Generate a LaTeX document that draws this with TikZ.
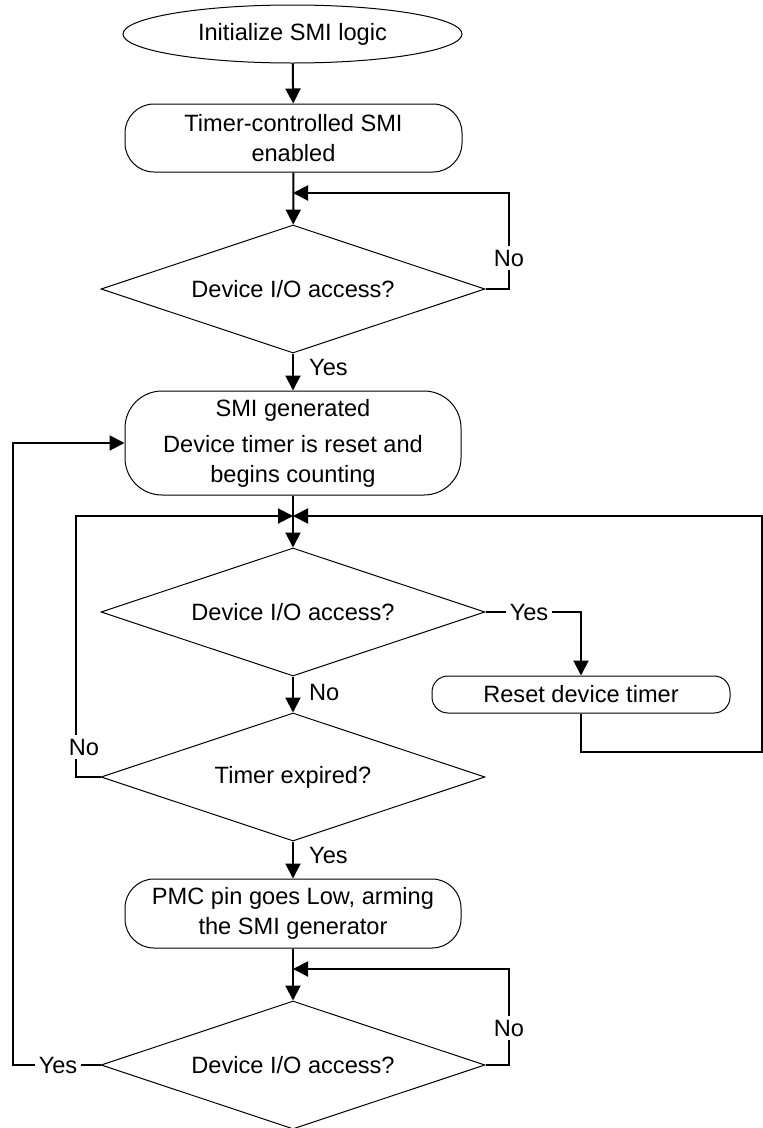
\documentclass[tikz,border=0pt]{standalone}
\usepackage{fontspec}
\setmainfont{Liberation Sans}
\usetikzlibrary{shapes.geometric,arrows.meta}
\begin{document}
\begin{tikzpicture}[x=1pt,y=-1pt,
  font=\fontsize{23.6}{29.5}\selectfont,
  outline/.style={draw,line width=1pt,inner sep=0pt,align=center},
  terminal/.style={outline,ellipse},
  process/.style={outline,rectangle,rounded corners=#1},
  process/.default=29pt,
  decision/.style={outline,diamond,shape aspect=3,minimum width=384pt,minimum height=128pt},
  conn/.style={line width=2pt},
  arr/.style={conn,-{Triangle[length=15pt,width=15pt]}},
  lbl/.style={inner sep=4pt},
  onlbl/.style={lbl,fill=white}]
\useasboundingbox (0,0) rectangle (763,1128);

% shapes
\node[terminal,minimum width=339pt,minimum height=58pt] (init) at (292.5,34) {Initialize SMI logic};
\node[process,minimum width=337pt,minimum height=68pt] (enable) at (293.5,138)
  {Timer-controlled SMI\\enabled};
\node[decision] (chk1) at (293,289) {Device I/O access?};
\node[process=37pt,minimum width=336pt,minimum height=104pt] (gen) at (293,443)
  {SMI generated\\[7pt]Device timer is reset and\\begins counting};
\node[decision] (chk2) at (293,612) {Device I/O access?};
\node[process=16pt,minimum width=298pt,minimum height=37pt] (reset) at (581,694.5) {Reset device timer};
\node[decision] (expired) at (293,777) {Timer expired?};
\node[process,minimum width=336pt,minimum height=69pt] (arm) at (293,913.5)
  {PMC pin goes Low, arming\\the SMI generator};
\node[decision] (chk3) at (293,1065) {Device I/O access?};

% junction points and corners
\coordinate (j1) at (293,193);
\coordinate (j2) at (293,516);
\coordinate (j3) at (293,969);
\coordinate (r1) at (509,193);
\coordinate (r3) at (509,969);
\coordinate (l2) at (76,516);
\coordinate (e2) at (762,516);
\coordinate (e3) at (762,752);
\coordinate (lb) at (13,1065);

% main flow
\draw[arr] (init) -- (enable);
\draw[arr] (enable) -- (chk1);
\draw[arr] (chk1) -- (gen);
\draw[arr] (gen) -- (chk2);
\draw[arr] (chk2) -- (expired);
\draw[arr] (expired) -- (arm);
\draw[arr] (arm) -- (chk3);

% loops
\draw[arr] (chk1.east) -| (r1) -- (j1);
\draw[arr] (chk2.east) -| (reset.north);
\draw[arr] (reset.south) |- (e3) -- (e2) -- (j2);
\draw[arr] (expired.west) -| (l2) -- (j2);
\draw[arr] (chk3.east) -| (r3) -- (j3);
\draw[arr] (chk3.west) -- (lb) |- (gen.west);

% branch labels
\node[onlbl] at (509,258) {No};
\node[lbl,anchor=west] at (305,367) {Yes};
\node[onlbl] at (529,612) {Yes};
\node[lbl,anchor=west] at (305,692) {No};
\node[onlbl] at (84,747) {No};
\node[lbl,anchor=west] at (305,855) {Yes};
\node[onlbl] at (509,1028) {No};
\node[onlbl] at (58,1065) {Yes};
\end{tikzpicture}
\end{document}
